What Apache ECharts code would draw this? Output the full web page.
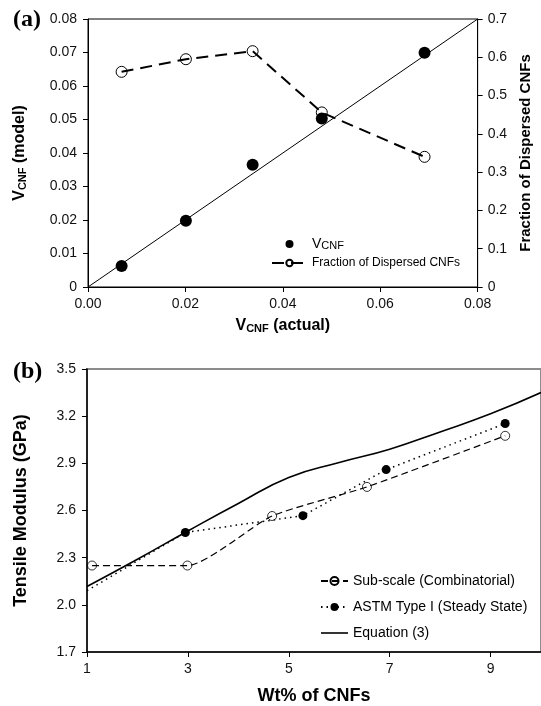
<!DOCTYPE html>
<html>
<head>
<meta charset="utf-8">
<script src="https://cdn.jsdelivr.net/npm/echarts@6/dist/echarts.min.js"></script>
<style>
  html, body { margin: 0; padding: 0; background: #fff; }
  #chart { width: 541px; height: 706px; }
</style>
</head>
<body>
<div id="chart"></div>
<script>
// (a) model vs actual CNF volume fraction, with dispersed fraction on the right axis
const actualVcnf = [0.0069, 0.0201, 0.0338, 0.0480, 0.0691];
const modelVcnf = [0.0063, 0.0198, 0.0365, 0.0503, 0.0699];
const dispersedFraction = [0.562, 0.595, 0.616, 0.456, 0.340];
const parityEnds = [0, 0.08];

// (b) tensile modulus vs CNF weight percent
const subScaleWt = [1.1, 2.99, 4.67, 6.55, 9.29];
const subScaleModulus = [2.25, 2.25, 2.565, 2.75, 3.075];
const astmWt = [1.0, 2.95, 5.28, 6.93, 9.29];
const astmModulus = [2.09, 2.46, 2.567, 2.86, 3.153];
const equationWt = [1, 2, 3, 4, 5, 6, 7, 8, 9, 10];
const equationModulus = [2.117, 2.29, 2.47, 2.645, 2.81, 2.905, 2.99, 3.10, 3.215, 3.35];

// axis origins for panel (b); ticks are counted from zero and labelled with the origin added back
const WT_ORIGIN = 1;
const MOD_ORIGIN = 1.7;

const FONT = 'Arial, "Liberation Sans", sans-serif';
const INK = '#000';

const chart = echarts.init(document.getElementById('chart'), null, { renderer: 'canvas' });

const axisCommon = {
  type: 'value',
  splitLine: { show: false },
  axisLine: { show: true, lineStyle: { color: INK, width: 1 } },
  axisTick: { show: true, length: 5, lineStyle: { color: INK, width: 1 } },
  axisLabel: { color: '#111', fontFamily: FONT, fontSize: 14 },
  nameTextStyle: { color: INK, fontFamily: FONT, fontWeight: 'bold' }
};

function merge(base, extra) {
  const out = JSON.parse(JSON.stringify(base));
  for (const k in extra) {
    if (extra[k] && typeof extra[k] === 'object' && !Array.isArray(extra[k]) && out[k] && typeof out[k] === 'object') {
      out[k] = Object.assign({}, out[k], extra[k]);
    } else {
      out[k] = extra[k];
    }
  }
  return out;
}

const vRich = {
  v: { fontSize: 16, fontWeight: 'bold', fontFamily: FONT, color: INK },
  s: { fontSize: 11, fontWeight: 'bold', fontFamily: FONT, color: INK, verticalAlign: 'bottom' }
};

const option = {
  animation: false,
  backgroundColor: '#fff',
  graphic: [
    { type: 'text', left: 13, top: 8, style: { text: '(a)', font: 'bold 24px "Liberation Serif", "Times New Roman", serif', fill: INK } },
    { type: 'text', left: 13, top: 360, style: { text: '(b)', font: 'bold 24px "Liberation Serif", "Times New Roman", serif', fill: INK } }
  ],
  grid: [
    { left: 88, right: 58, top: 19, bottom: 419, show: true, borderColor: INK, borderWidth: 1, backgroundColor: 'transparent' },
    { left: 87, right: -1, top: 369, bottom: 50, show: true, borderColor: '#8c8c8c', borderWidth: 2, backgroundColor: 'transparent' }
  ],
  xAxis: [
    merge(axisCommon, {
      gridIndex: 0, min: 0, max: 0.08, interval: 0.02,
      axisLabel: { color: '#111', fontFamily: FONT, fontSize: 14, margin: 10, formatter: v => v.toFixed(2) },
      name: '{v|V}{s|CNF}{v| (actual)}', nameLocation: 'middle', nameGap: 31,
      nameTextStyle: { color: INK, fontFamily: FONT, fontWeight: 'bold', fontSize: 16, rich: vRich }
    }),
    merge(axisCommon, {
      gridIndex: 1, min: 0, max: 9, interval: 2,
      axisLine: { show: true, lineStyle: { color: INK, width: 1.5 } },
      axisLabel: { color: '#111', fontFamily: FONT, fontSize: 14, margin: 10, showMaxLabel: false,
        formatter: v => String(Math.round(v + WT_ORIGIN)) },
      name: 'Wt% of CNFs', nameLocation: 'middle', nameGap: 35,
      nameTextStyle: { color: INK, fontFamily: FONT, fontWeight: 'bold', fontSize: 18 }
    })
  ],
  yAxis: [
    merge(axisCommon, {
      gridIndex: 0, min: 0, max: 0.08, interval: 0.01, position: 'left',
      axisLabel: { color: '#111', fontFamily: FONT, fontSize: 14, margin: 11, formatter: v => v === 0 ? '0' : v.toFixed(2) },
      name: '{v|V}{s|CNF}{v| (model)}', nameLocation: 'middle', nameGap: 60, nameRotate: 90,
      nameTextStyle: { color: INK, fontFamily: FONT, fontWeight: 'bold', fontSize: 16, rich: vRich }
    }),
    merge(axisCommon, {
      gridIndex: 0, min: 0, max: 0.7, interval: 0.1, position: 'right',
      axisLabel: { color: '#111', fontFamily: FONT, fontSize: 14, margin: 10, formatter: v => v === 0 ? '0' : v.toFixed(1) },
      name: 'Fraction of Dispersed CNFs', nameLocation: 'middle', nameGap: 34, nameRotate: 90,
      nameTextStyle: { color: INK, fontFamily: FONT, fontWeight: 'bold', fontSize: 15 }
    }),
    merge(axisCommon, {
      gridIndex: 1, min: 0, max: 1.8, interval: 0.3, position: 'left',
      axisLine: { show: true, lineStyle: { color: INK, width: 1.5 } },
      axisLabel: { color: '#111', fontFamily: FONT, fontSize: 14, margin: 11,
        formatter: v => (v + MOD_ORIGIN).toFixed(1) },
      name: 'Tensile Modulus (GPa)', nameLocation: 'middle', nameGap: 57, nameRotate: 90,
      nameTextStyle: { color: INK, fontFamily: FONT, fontWeight: 'bold', fontSize: 18 }
    })
  ],
  legend: [
    {
      left: 266, top: 232, orient: 'vertical', itemWidth: 35, itemHeight: 8, itemGap: 6,
      data: ['VCNF', 'Fraction of Dispersed CNFs'],
      formatter: name => name === 'VCNF' ? '{lv|V}{ls|CNF}' : name,
      textStyle: {
        color: INK, fontFamily: FONT, fontSize: 12,
        rich: {
          lv: { fontSize: 14, fontFamily: FONT, color: INK },
          ls: { fontSize: 11, fontFamily: FONT, color: INK, verticalAlign: 'bottom' }
        }
      }
    },
    {
      left: 315, top: 569, orient: 'vertical', itemWidth: 27, itemHeight: 10, itemGap: 12,
      data: [
        'Sub-scale (Combinatorial)',
        'ASTM Type I (Steady State)',
        { name: 'Equation (3)', icon: 'path://M0,0 L27,0 L27,1.6 L0,1.6 Z' }
      ],
      textStyle: { color: INK, fontFamily: FONT, fontSize: 14 }
    }
  ],
  series: [
    {
      name: 'parity', type: 'line', xAxisIndex: 0, yAxisIndex: 0,
      data: parityEnds.map(v => [v, v]), symbol: 'none', silent: true,
      lineStyle: { color: INK, width: 1 }, z: 1
    },
    {
      name: 'Fraction of Dispersed CNFs', type: 'line', xAxisIndex: 0, yAxisIndex: 1,
      data: actualVcnf.map((x, i) => [x, dispersedFraction[i]]),
      symbol: 'circle', symbolSize: 11, showSymbol: true,
      itemStyle: { color: 'rgba(255,255,255,0)', borderColor: INK, borderWidth: 1 },
      lineStyle: { color: INK, width: 2, type: [12, 7] }, z: 2
    },
    {
      name: 'VCNF', type: 'scatter', xAxisIndex: 0, yAxisIndex: 0,
      data: actualVcnf.map((x, i) => [x, modelVcnf[i]]),
      symbol: 'circle', symbolSize: 12, itemStyle: { color: INK, opacity: 1 }, z: 3
    },
    {
      name: 'Equation (3)', type: 'line', xAxisIndex: 1, yAxisIndex: 2,
      data: equationWt.map((w, i) => [w - WT_ORIGIN, equationModulus[i] - MOD_ORIGIN]),
      symbol: 'none', smooth: 0.5,
      itemStyle: { color: INK },
      lineStyle: { color: INK, width: 1.6 }, z: 2
    },
    {
      name: 'Sub-scale (Combinatorial)', type: 'line', xAxisIndex: 1, yAxisIndex: 2,
      data: subScaleWt.map((w, i) => [w - WT_ORIGIN, subScaleModulus[i] - MOD_ORIGIN]),
      symbol: 'circle', symbolSize: 9, smooth: 0.2,
      itemStyle: { color: 'rgba(255,255,255,0)', borderColor: INK, borderWidth: 0.8 },
      lineStyle: { color: INK, width: 1.2, type: [7, 4] }, z: 3
    },
    {
      name: 'ASTM Type I (Steady State)', type: 'line', xAxisIndex: 1, yAxisIndex: 2,
      data: astmWt.map((w, i) => {
        const pt = [w - WT_ORIGIN, astmModulus[i] - MOD_ORIGIN];
        return i === 0 ? { value: pt, symbol: 'none' } : pt;
      }),
      symbol: 'circle', symbolSize: 9,
      itemStyle: { color: INK },
      lineStyle: { color: INK, width: 1.5, type: [1.5, 4] }, z: 4
    }
  ]
};

chart.setOption(option);
</script>
</body>
</html>
